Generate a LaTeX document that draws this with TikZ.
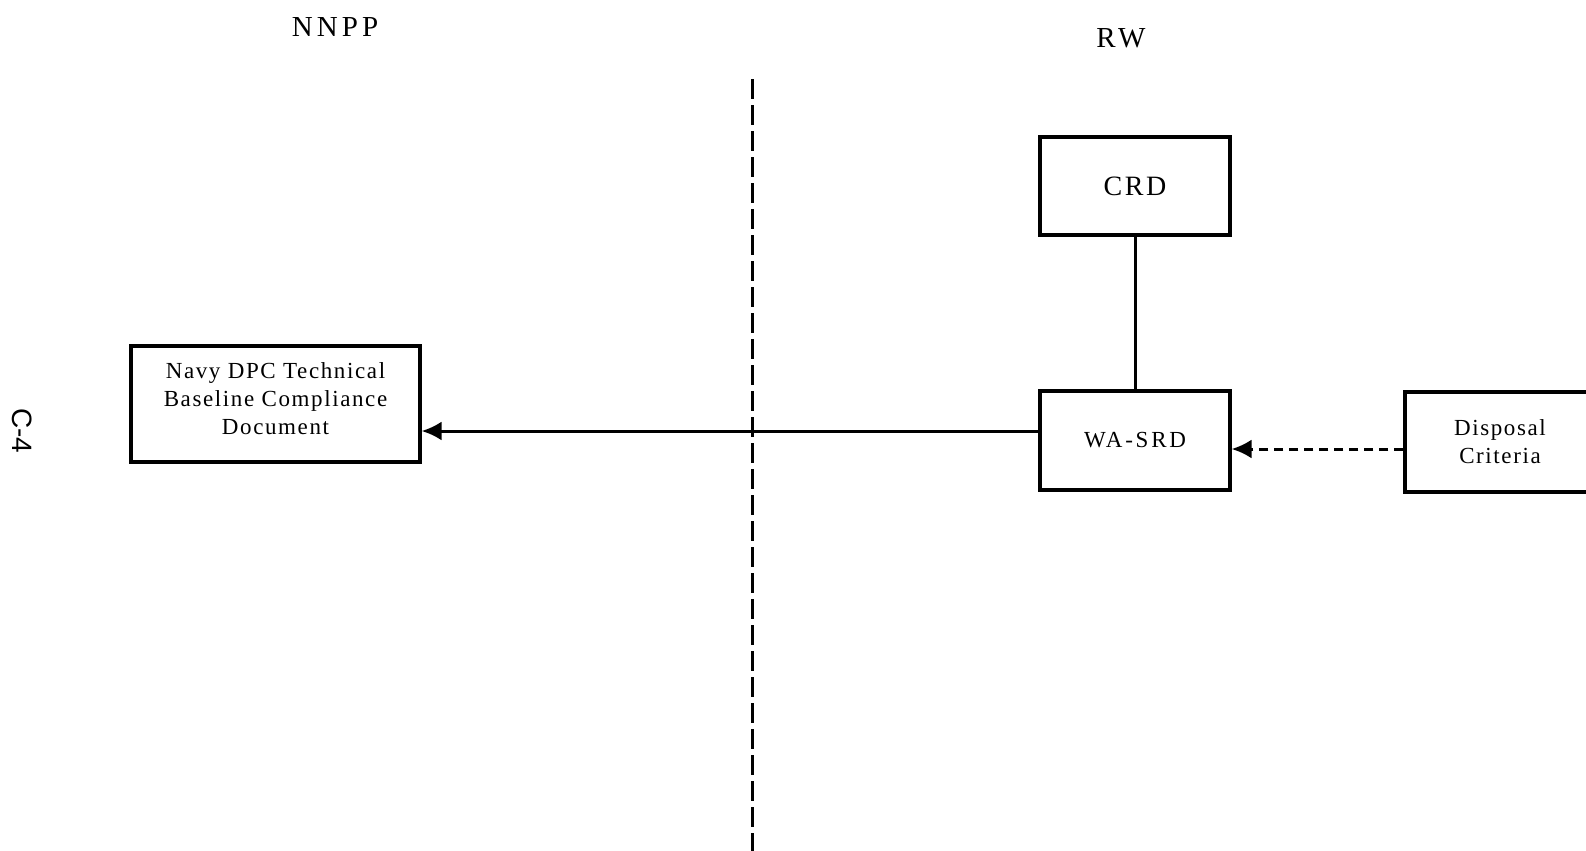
\documentclass[tikz,border=0pt]{standalone}
\usepackage{fontspec}
\setmainfont{Liberation Serif}
\newfontfamily\pagefont{Liberation Sans}
\usetikzlibrary{arrows.meta}

\tikzset{
  doc/.style={draw, line width=1.6pt, inner sep=0pt, align=center, font=\fontsize{11.5}{14}\selectfont\addfontfeatures{LetterSpace=7}},
  side/.style={font=\fontsize{14.5}{16}\selectfont\addfontfeatures{LetterSpace=14}},
  link/.style={line width=1.5pt},
  feed/.style={link, -{Latex[length=10pt,width=9.5pt]}}
}

\begin{document}
\begin{tikzpicture}[x=0.5pt, y=-0.5pt] %Início: 1 unidade = 1 pixel da figura
  \useasboundingbox (0,0) rectangle (1586,851); %Margens
    %Títulos dos lados
  \node[side] (nnpp) at (335,27) {NNPP}; %Lado esquerdo
  \node[side] (rw) at (1121,38) {RW}; %Lado direito
  \node[font=\pagefont\fontsize{14}{16}\selectfont, rotate=-90] (pagenum) at (22,431) {C-4}; %Número da página
    %Divisória
  \coordinate (divtop) at (752,79);
  \coordinate (divbot) at (752,860);
  \draw[link, dash pattern=on 10pt off 3pt] (divtop) -- (divbot); %Linha tracejada entre NNPP e RW
    %Documentos
  \node[doc, minimum width=144.5pt, minimum height=58pt, text depth=5.5pt] (navy) at (275.5,404) {Navy DPC Technical\\Baseline Compliance\\Document};
  \node[doc, minimum width=95pt, minimum height=49pt, font=\fontsize{14}{16}\selectfont\addfontfeatures{LetterSpace=9}] (crd) at (1135,186) {CRD};
  \node[doc, minimum width=95pt, minimum height=49.5pt, font=\fontsize{11.5}{14}\selectfont\addfontfeatures{LetterSpace=12}] (wasrd) at (1135,440.5) {WA-SRD};
  \node[doc, minimum width=95pt, minimum height=50pt] (disposal) at (1500,442) {Disposal\\Criteria};
    %Ligações
  \coordinate (flow) at (600,431);
  \coordinate (crit) at (1300,449);
  \draw[link] (crd) -- (wasrd); %CRD ligado ao WA-SRD
  \draw[feed] (wasrd.west |- flow) -- (navy.east |- flow); %WA-SRD para o documento da Marinha
  \draw[feed, dash pattern=on 4.5pt off 3pt] (disposal.west |- crit) -- (wasrd.east |- crit); %Critérios de disposição
\end{tikzpicture}
\end{document}
